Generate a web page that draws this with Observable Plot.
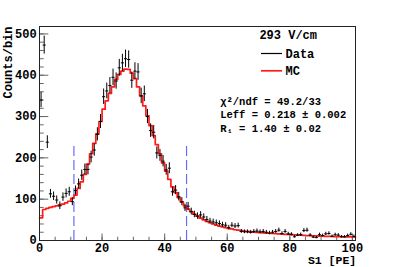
<!DOCTYPE html>
<html><head><meta charset="utf-8">
<script src="https://cdn.jsdelivr.net/npm/d3@7"></script>
<script src="https://cdn.jsdelivr.net/npm/@observablehq/plot@0.6"></script>
<style>
html,body{margin:0;padding:0;background:#fff;}
</style></head><body><div id="chart"></div>
<script>
// S1 histogram, 1 PE bins starting at 0
const binStart = 0;
const binWidth = 1;
const dataCounts = [340,473,238,113,107,98,84,105,114,118,
  94,121,137,158,172,172,202,219,257,288,
  348,362,375,395,386,418,430,440,438,388,
  410,408,350,355,300,266,262,212,206,192,
  171,175,118,122,106,94,79,83,70,63,
  59,62,57,51,47,45,43,41,38,37,
  31,37,35,36,22,21,21,20,22,23,
  21,22,20,18,20,22,25,17,22,16,
  15,9,13,14,24,25,13,8,7,14,
  12,16,17,10,14,13,9,9,12,15,10];
const mcCounts = [55,75,78,80,82,84,86,88,91,95,
  102,110,126,142,160,185,210,235,258,288,
  318,338,356,372,390,402,410,415,414,405,
  392,372,350,326,302,278,254,232,210,188,
  168,148,130,116,104,93,84,76,70,64,
  59,54,50,46,43,40,37,35,33,31,
  29,28,26,25,24,23,22,21,20,19.5,
  19,18.5,18,17.5,17,16.5,16,15.5,15,14.5,
  14,13.6,13.2,12.8,12.4,12,11.7,11.4,11.1,10.8,
  10.5,10.2,10,9.8,9.6,9.4,9.2,9,8.8,8.6,8.4];
const cuts = [11, 47];
const cutTop = 237;
const xMajor = [0, 20, 40, 60, 80, 100];
const xMinor = d3.range(0, 101, 5);
const yMajor = [0, 100, 200, 300, 400, 500];
const yMinor = d3.range(0, 519, 20);
const xDomain = [0, 101];
const yDomain = [0, 518];
const fieldLabel = "293 V/cm";
const legendItems = ["Data", "MC"];
const statLines = ["χ²/ndf = 49.2/33", "Leff = 0.218 ± 0.002", "R₁ = 1.40 ± 0.02"];

const data = dataCounts.map((v, i) => ({lo: binStart + i*binWidth, hi: binStart + (i+1)*binWidth, c: binStart + (i+0.5)*binWidth, v}));
const mc = mcCounts.map((v, i) => ({x: binStart + i*binWidth, v}));
mc.push({x: binStart + mcCounts.length*binWidth, v: mcCounts[mcCounts.length-1]});

const font = "'Liberation Mono', 'DejaVu Sans Mono', monospace";
const tickColor = "#666";

const plot = Plot.plot({
  width: 395, height: 267,
  marginLeft: 39, marginRight: 40, marginTop: 26, marginBottom: 27,
  style: {fontFamily: font, fontSize: "12px", fontWeight: "bold", background: "#fff", color: "#000", overflow: "visible"},
  x: {domain: xDomain},
  y: {domain: yDomain},
  marks: [
    Plot.axisX({ticks: xMinor, tickSize: -3.3, tickFormat: () => "", label: null, stroke: tickColor}),
    Plot.axisX({ticks: xMajor, tickSize: -6.5, tickPadding: 9.6, label: null, stroke: tickColor, fill: "#000"}),
    Plot.axisY({ticks: yMinor, tickSize: -4.7, tickFormat: () => "", label: null, stroke: tickColor}),
    Plot.axisY({ticks: yMajor, tickSize: -9.3, tickPadding: 12.2, label: null, stroke: tickColor, fill: "#000"}),
    Plot.ruleX(cuts, {x: d => d, y1: 0, y2: cutTop, stroke: "#6b6bff", strokeWidth: 1.2, strokeDasharray: "10,4"}),
    Plot.line(mc, {x: "x", y: "v", curve: "step-after", stroke: "#ff1a1a", strokeWidth: 1.7}),
    Plot.ruleX(data, {x: "c", y1: d => d.v - Math.sqrt(d.v), y2: d => d.v + Math.sqrt(d.v), stroke: "#000", strokeWidth: 1}),
    Plot.link(data, {x1: "lo", x2: "hi", y1: "v", y2: "v", stroke: "#000", strokeWidth: 1}),
    Plot.frame({stroke: "#222"}),
    Plot.text(["Counts/bin"], {frameAnchor: "top-left", dx: -31, dy: 0, rotate: -90, textAnchor: "end", lineAnchor: "middle", fontSize: 12, fontWeight: "bold", fontFamily: font}),
    Plot.text(["S1 [PE]"], {frameAnchor: "bottom-right", dx: 0.7, dy: 20.2, textAnchor: "end", lineAnchor: "middle", fontSize: 11.5, fontWeight: "bold", fontFamily: font}),
    Plot.text([fieldLabel], {frameAnchor: "top-left", dx: 248.7, dy: 9, textAnchor: "middle", lineAnchor: "middle", fontSize: 12, fontWeight: "bold", fontFamily: font}),
    Plot.text([legendItems[0]], {frameAnchor: "top-left", dx: 246, dy: 27.5, textAnchor: "start", lineAnchor: "middle", fontSize: 12, fontWeight: "bold", fontFamily: font}),
    Plot.text([legendItems[1]], {frameAnchor: "top-left", dx: 246, dy: 44.8, textAnchor: "start", lineAnchor: "middle", fontSize: 12, fontWeight: "bold", fontFamily: font}),
    Plot.text([statLines.join("\n")], {frameAnchor: "top-left", dx: 180.7, dy: 68.5, textAnchor: "start", lineAnchor: "top", lineHeight: 1.3, fontSize: 10.5, fontWeight: "bold", fontFamily: font})
  ]
});

// legend swatches
const svg = d3.select(plot);
const g = svg.append("g");
g.append("line").attr("x1", 261).attr("x2", 282).attr("y1", 53.5).attr("y2", 53.5).attr("stroke", "#000").attr("stroke-width", 1.2);
g.append("line").attr("x1", 261).attr("x2", 282).attr("y1", 70.8).attr("y2", 70.8).attr("stroke", "#ff1a1a").attr("stroke-width", 1.7);

document.getElementById("chart").appendChild(plot);
</script>
</body></html>
